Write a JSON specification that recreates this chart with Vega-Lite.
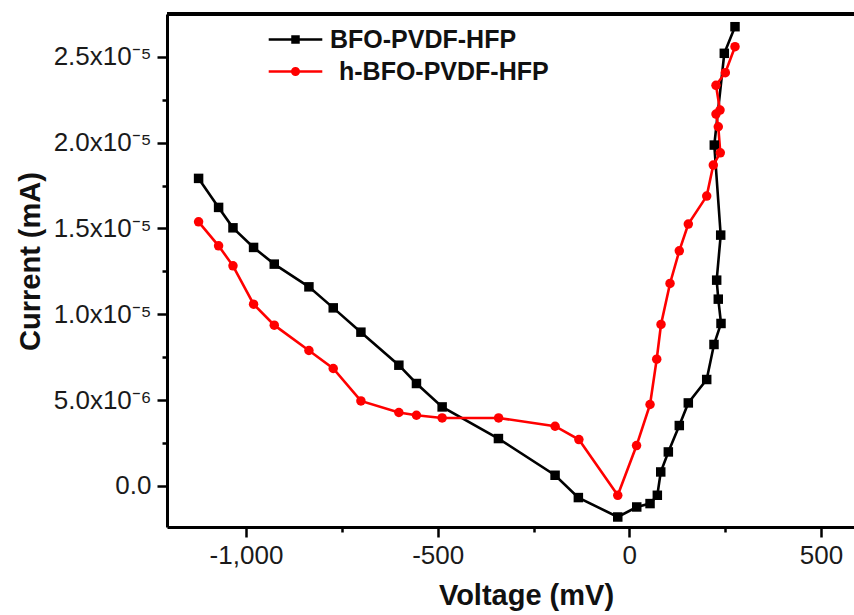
{
  "$schema": "https://vega.github.io/schema/vega-lite/v6.json",
  "autosize": {"type": "none"},
  "padding": {"left": 167, "top": 14, "right": 0, "bottom": 88},
  "width": 687,
  "height": 513,
  "background": "white",
  "config": {
    "view": {"stroke": null},
    "font": "Liberation Sans",
    "axis": {
      "domainColor": "black", "domainWidth": 3,
      "tickColor": "black", "tickWidth": 2.5,
      "labelFont": "Liberation Sans", "labelFontSize": 26, "labelColor": "#1a1a1a",
      "titleFont": "Liberation Sans", "titleFontSize": 29, "titleFontWeight": "bold", "titleColor": "#111",
      "grid": false
    }
  },
  "data": {"values": [
    {"s": "BFO-PVDF-HFP", "i": 1, "v": -1123.6, "c": 1.7915e-5},
    {"s": "BFO-PVDF-HFP", "i": 2, "v": -1071.4, "c": 1.6225e-5},
    {"s": "BFO-PVDF-HFP", "i": 3, "v": -1033.9, "c": 1.5036e-5},
    {"s": "BFO-PVDF-HFP", "i": 4, "v": -980.2, "c": 1.3894e-5},
    {"s": "BFO-PVDF-HFP", "i": 5, "v": -926.2, "c": 1.2921e-5},
    {"s": "BFO-PVDF-HFP", "i": 6, "v": -835.8, "c": 1.1598e-5},
    {"s": "BFO-PVDF-HFP", "i": 7, "v": -772.4, "c": 1.0374e-5},
    {"s": "BFO-PVDF-HFP", "i": 8, "v": -700.2, "c": 8.958e-6},
    {"s": "BFO-PVDF-HFP", "i": 9, "v": -601.2, "c": 7.034e-6},
    {"s": "BFO-PVDF-HFP", "i": 10, "v": -555.3, "c": 5.968e-6},
    {"s": "BFO-PVDF-HFP", "i": 11, "v": -488.3, "c": 4.604e-6},
    {"s": "BFO-PVDF-HFP", "i": 12, "v": -341.5, "c": 2.762e-6},
    {"s": "BFO-PVDF-HFP", "i": 13, "v": -193.7, "c": 6.24e-7},
    {"s": "BFO-PVDF-HFP", "i": 14, "v": -133.0, "c": -6.76e-7},
    {"s": "BFO-PVDF-HFP", "i": 15, "v": -30.2, "c": -1.807e-6},
    {"s": "BFO-PVDF-HFP", "i": 16, "v": 19.3, "c": -1.224e-6},
    {"s": "BFO-PVDF-HFP", "i": 17, "v": 54.0, "c": -1.026e-6},
    {"s": "BFO-PVDF-HFP", "i": 18, "v": 73.0, "c": -5.42e-7},
    {"s": "BFO-PVDF-HFP", "i": 19, "v": 81.9, "c": 8.16e-7},
    {"s": "BFO-PVDF-HFP", "i": 20, "v": 101.7, "c": 1.982e-6},
    {"s": "BFO-PVDF-HFP", "i": 21, "v": 130.3, "c": 3.52e-6},
    {"s": "BFO-PVDF-HFP", "i": 22, "v": 153.8, "c": 4.837e-6},
    {"s": "BFO-PVDF-HFP", "i": 23, "v": 201.8, "c": 6.201e-6},
    {"s": "BFO-PVDF-HFP", "i": 24, "v": 220.8, "c": 8.241e-6},
    {"s": "BFO-PVDF-HFP", "i": 25, "v": 239.1, "c": 9.465e-6},
    {"s": "BFO-PVDF-HFP", "i": 26, "v": 232.0, "c": 1.0881e-5},
    {"s": "BFO-PVDF-HFP", "i": 27, "v": 227.8, "c": 1.1988e-5},
    {"s": "BFO-PVDF-HFP", "i": 28, "v": 238.3, "c": 1.4611e-5},
    {"s": "BFO-PVDF-HFP", "i": 29, "v": 221.6, "c": 1.9856e-5},
    {"s": "BFO-PVDF-HFP", "i": 30, "v": 247.7, "c": 2.52e-5},
    {"s": "BFO-PVDF-HFP", "i": 31, "v": 275.6, "c": 2.675e-5},
    {"s": "h-BFO-PVDF-HFP", "i": 1, "v": -1123.6, "c": 1.5386e-5},
    {"s": "h-BFO-PVDF-HFP", "i": 2, "v": -1071.4, "c": 1.3987e-5},
    {"s": "h-BFO-PVDF-HFP", "i": 3, "v": -1033.9, "c": 1.2822e-5},
    {"s": "h-BFO-PVDF-HFP", "i": 4, "v": -980.2, "c": 1.059e-5},
    {"s": "h-BFO-PVDF-HFP", "i": 5, "v": -926.2, "c": 9.366e-6},
    {"s": "h-BFO-PVDF-HFP", "i": 6, "v": -835.8, "c": 7.891e-6},
    {"s": "h-BFO-PVDF-HFP", "i": 7, "v": -772.4, "c": 6.842e-6},
    {"s": "h-BFO-PVDF-HFP", "i": 8, "v": -700.2, "c": 4.954e-6},
    {"s": "h-BFO-PVDF-HFP", "i": 9, "v": -601.2, "c": 4.278e-6},
    {"s": "h-BFO-PVDF-HFP", "i": 10, "v": -555.3, "c": 4.12e-6},
    {"s": "h-BFO-PVDF-HFP", "i": 11, "v": -488.3, "c": 3.963e-6},
    {"s": "h-BFO-PVDF-HFP", "i": 12, "v": -341.0, "c": 3.963e-6},
    {"s": "h-BFO-PVDF-HFP", "i": 13, "v": -193.7, "c": 3.479e-6},
    {"s": "h-BFO-PVDF-HFP", "i": 14, "v": -131.6, "c": 2.704e-6},
    {"s": "h-BFO-PVDF-HFP", "i": 15, "v": -30.2, "c": -5.42e-7},
    {"s": "h-BFO-PVDF-HFP", "i": 16, "v": 18.8, "c": 2.355e-6},
    {"s": "h-BFO-PVDF-HFP", "i": 17, "v": 54.0, "c": 4.744e-6},
    {"s": "h-BFO-PVDF-HFP", "i": 18, "v": 71.4, "c": 7.384e-6},
    {"s": "h-BFO-PVDF-HFP", "i": 19, "v": 82.6, "c": 9.406e-6},
    {"s": "h-BFO-PVDF-HFP", "i": 20, "v": 106.1, "c": 1.1796e-5},
    {"s": "h-BFO-PVDF-HFP", "i": 21, "v": 130.3, "c": 1.3696e-5},
    {"s": "h-BFO-PVDF-HFP", "i": 22, "v": 153.8, "c": 1.5252e-5},
    {"s": "h-BFO-PVDF-HFP", "i": 23, "v": 201.8, "c": 1.6884e-5},
    {"s": "h-BFO-PVDF-HFP", "i": 24, "v": 219.0, "c": 1.869e-5},
    {"s": "h-BFO-PVDF-HFP", "i": 25, "v": 237.2, "c": 1.9407e-5},
    {"s": "h-BFO-PVDF-HFP", "i": 26, "v": 232.0, "c": 2.0923e-5},
    {"s": "h-BFO-PVDF-HFP", "i": 27, "v": 226.0, "c": 2.1663e-5},
    {"s": "h-BFO-PVDF-HFP", "i": 28, "v": 236.5, "c": 2.1896e-5},
    {"s": "h-BFO-PVDF-HFP", "i": 29, "v": 226.0, "c": 2.3335e-5},
    {"s": "h-BFO-PVDF-HFP", "i": 30, "v": 250.3, "c": 2.407e-5},
    {"s": "h-BFO-PVDF-HFP", "i": 31, "v": 275.6, "c": 2.5585e-5}
  ]},
  "encoding": {
    "x": {
      "field": "v", "type": "quantitative",
      "scale": {"domain": [-1206, 586], "nice": false, "zero": false},
      "axis": {
        "title": "Voltage (mV)",
        "values": [-1000, -750, -500, -250, 0, 250, 500],
        "labelExpr": "datum.value == -1000 ? '-1,000' : (datum.value == -500 ? '-500' : (datum.value == 0 ? '0' : (datum.value == 500 ? '500' : '')))",
        "tickSize": {"condition": {"test": "abs(datum.value) == 250 || abs(datum.value) == 750", "value": 5}, "value": 10},
        "labelPadding": 5,
        "titleX": 359, "titleY": 77, "titleBaseline": "alphabetic", "titleAnchor": "middle", "titleAlign": "center"
      }
    },
    "y": {
      "field": "c", "type": "quantitative",
      "scale": {"domain": [-2.39e-6, 2.749e-5], "nice": false, "zero": false},
      "axis": {
        "title": "Current (mA)",
        "values": [0, 2.5e-6, 5e-6, 7.5e-6, 1e-5, 1.25e-5, 1.5e-5, 1.75e-5, 2e-5, 2.25e-5, 2.5e-5],
        "labelExpr": "datum.value == 0 ? '0.0' : (abs(datum.value/5e-6 - round(datum.value/5e-6)) > 0.01 ? '' : (datum.value >= 1e-5 ? format(datum.value/1e-5, '.1f') + 'x10⁻⁵' : format(datum.value/1e-6, '.1f') + 'x10⁻⁶'))",
        "tickSize": {"condition": {"test": "abs(datum.value/5e-6 - round(datum.value/5e-6)) > 0.01", "value": 5}, "value": 10},
        "labelPadding": 6,
        "titleAngle": -90, "titleX": -128, "titleY": 247, "titleBaseline": "alphabetic", "titleAlign": "center"
      }
    },
    "color": {
      "field": "s", "type": "nominal",
      "scale": {"domain": ["BFO-PVDF-HFP", "h-BFO-PVDF-HFP"], "range": ["#000000", "#ff0000"]},
      "legend": {
        "title": null, "orient": "none", "legendX": 116, "legendY": 13,
        "padding": 0, "symbolSize": 400, "symbolStrokeWidth": 2.5,
        "labelFont": "Liberation Sans", "labelFontSize": 25, "labelFontWeight": "bold", "labelColor": "#111",
        "labelOffset": 22, "rowPadding": 6, "labelLimit": 400,
        "encode": {
          "symbols": {
            "update": {
              "shape": {"signal": "datum.value == 'BFO-PVDF-HFP' ? 'M-2.68,0H2.68M-0.3,-0.3H0.3V0.3H-0.3Z' : 'M-2.68,0H2.68M0.33,0A0.33,0.33,0,1,1,-0.33,0A0.33,0.33,0,1,1,0.33,0Z'"},
              "stroke": {"signal": "datum.value == 'BFO-PVDF-HFP' ? '#000000' : '#ff0000'"},
              "fill": {"signal": "datum.value == 'BFO-PVDF-HFP' ? '#000000' : '#ff0000'"},
              "strokeWidth": {"value": 2.5},
              "opacity": {"value": 1}
            }
          },
          "labels": {
            "update": {
              "dx": {"signal": "datum.value == 'h-BFO-PVDF-HFP' ? 9 : 0"}
            }
          }
        }
      }
    }
  },
  "layer": [
    {
      "mark": {"type": "rule", "color": "black", "strokeWidth": 3},
      "encoding": {"y": {"datum": 2.749e-5}, "x": null, "color": null}
    },
    {
      "mark": {"type": "line", "strokeWidth": 2.6},
      "encoding": {
        "order": {"field": "i"}
      }
    },
    {
      "transform": [{"filter": "datum.s == 'BFO-PVDF-HFP'"}],
      "mark": {"type": "point", "shape": "square", "filled": true, "size": 90, "opacity": 1}
    },
    {
      "transform": [{"filter": "datum.s == 'h-BFO-PVDF-HFP'"}],
      "mark": {"type": "point", "shape": "circle", "filled": true, "size": 90, "opacity": 1}
    }
  ]
}
